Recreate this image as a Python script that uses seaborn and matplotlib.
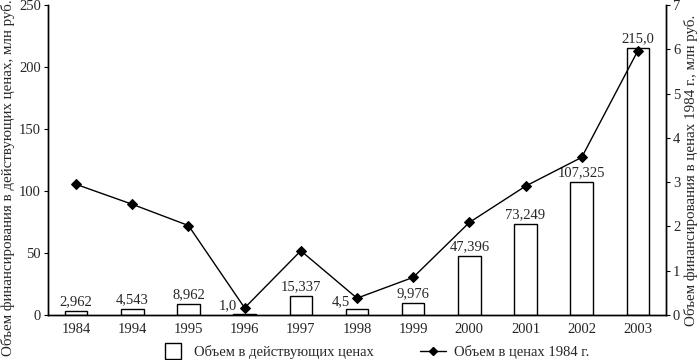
import matplotlib
matplotlib.use("Agg")
import matplotlib.pyplot as plt
import seaborn as sns
import pandas as pd
import numpy as np
from matplotlib.lines import Line2D
from matplotlib.ticker import FixedLocator

years = ["1984", "1994", "1995", "1996", "1997", "1998", "1999", "2000", "2001", "2002", "2003"]
current_prices = [2.962, 4.543, 8.962, 1.0, 15.337, 4.5, 9.976, 47.396, 73.249, 107.325, 215.0]
bar_labels = ["2,962", "4,543", "8,962", "1,0", "15,337", "4,5", "9,976", "47,396", "73,249", "107,325", "215,0"]
prices_1984 = [2.95, 2.50, 2.02, 0.16, 1.45, 0.38, 0.85, 2.09, 2.91, 3.56, 5.97]
left_ticks = [0, 50, 100, 150, 200, 250]
right_ticks = [0, 1, 2, 3, 4, 5, 6, 7]

sns.set_theme(style="white")
plt.rcParams["font.family"] = ["Liberation Serif", "DejaVu Serif"]
plt.rcParams["font.size"] = 10.5

df = pd.DataFrame({"year": years, "cur": current_prices, "c84": prices_1984})

fig = plt.figure(figsize=(7, 3.6), dpi=100)
ax = fig.add_axes([48/700, 1-315/360, (666-48)/700, 310/360])

sns.barplot(data=df, x="year", y="cur", ax=ax, color="white", edgecolor="black",
            linewidth=1.0, width=0.4, saturation=1)
ax2 = ax.twinx()
sns.pointplot(data=df, x="year", y="c84", ax=ax2, color="black", markers="D",
              markersize=5, linewidth=1.0, errorbar=None)

for a in (ax, ax2):
    a.set_xlim(-0.5, len(years) - 0.5)
ax.set_ylim(0, 250)
ax2.set_ylim(0, 7)
ax.set_yticks(left_ticks)
ax2.set_yticks(right_ticks)
ax.set_yticklabels([str(t) for t in left_ticks], fontsize=10.5)
ax2.set_yticklabels([str(t) for t in right_ticks], fontsize=10.5)

ax.set_xticks(range(len(years)))
ax.set_xticklabels(years, fontsize=10.5)
ax.xaxis.set_minor_locator(FixedLocator(np.arange(0.5, len(years) - 0.5, 1)))
ax.tick_params(axis="x", which="major", length=0, pad=6)
ax.tick_params(axis="x", which="minor", length=5, width=0.8, direction="out", color="black")
ax.tick_params(axis="y", length=3, width=0.8, direction="out", color="black", left=True, pad=2)
ax2.tick_params(axis="y", length=3, width=0.8, direction="out", color="black", right=True, pad=2)

for a in (ax, ax2):
    for side in ("left", "right", "bottom"):
        a.spines[side].set_visible(True)
        a.spines[side].set_color("black")
        a.spines[side].set_linewidth(1.0)
    a.spines["top"].set_visible(False)
    a.grid(False)

ax.set_xlabel("")
ax.set_ylabel("")
ax2.set_ylabel("")
fig.text(8/700, 1 - 178/360, "Объем финансирования в действующих ценах, млн руб.",
         rotation=90, ha="center", va="center", fontsize=10.8)
fig.text(691/700, 1 - 170/360, "Объем финансирования в ценах 1984 г., млн руб.",
         rotation=90, ha="center", va="center", fontsize=10.8)

for i, (v, lab) in enumerate(zip(current_prices, bar_labels)):
    if lab in ("1,0", "4,5"):
        ax.annotate(lab, (i - 0.13, v), xytext=(0, 1), textcoords="offset points",
                    ha="right", va="bottom", fontsize=10.5)
    else:
        ax.annotate(lab, (i, v), xytext=(0, 2), textcoords="offset points",
                    ha="center", va="bottom", fontsize=10.5)

handles = [Line2D([0], [0], color="black", marker="s", markersize=11, markerfacecolor="white",
                  markeredgewidth=1.0, linestyle="none"),
           Line2D([0], [0], color="black", marker="D", markersize=4, linewidth=1.0)]
fig.legend(handles, ["Объем в действующих ценах", "Объем в ценах 1984 г."],
           loc="lower center", bbox_to_anchor=(0.535, -0.035), ncol=2, frameon=False,
           fontsize=10.5, columnspacing=3.2, handlelength=1.8, handletextpad=0.5)

fig.savefig("out.png", dpi=100)
